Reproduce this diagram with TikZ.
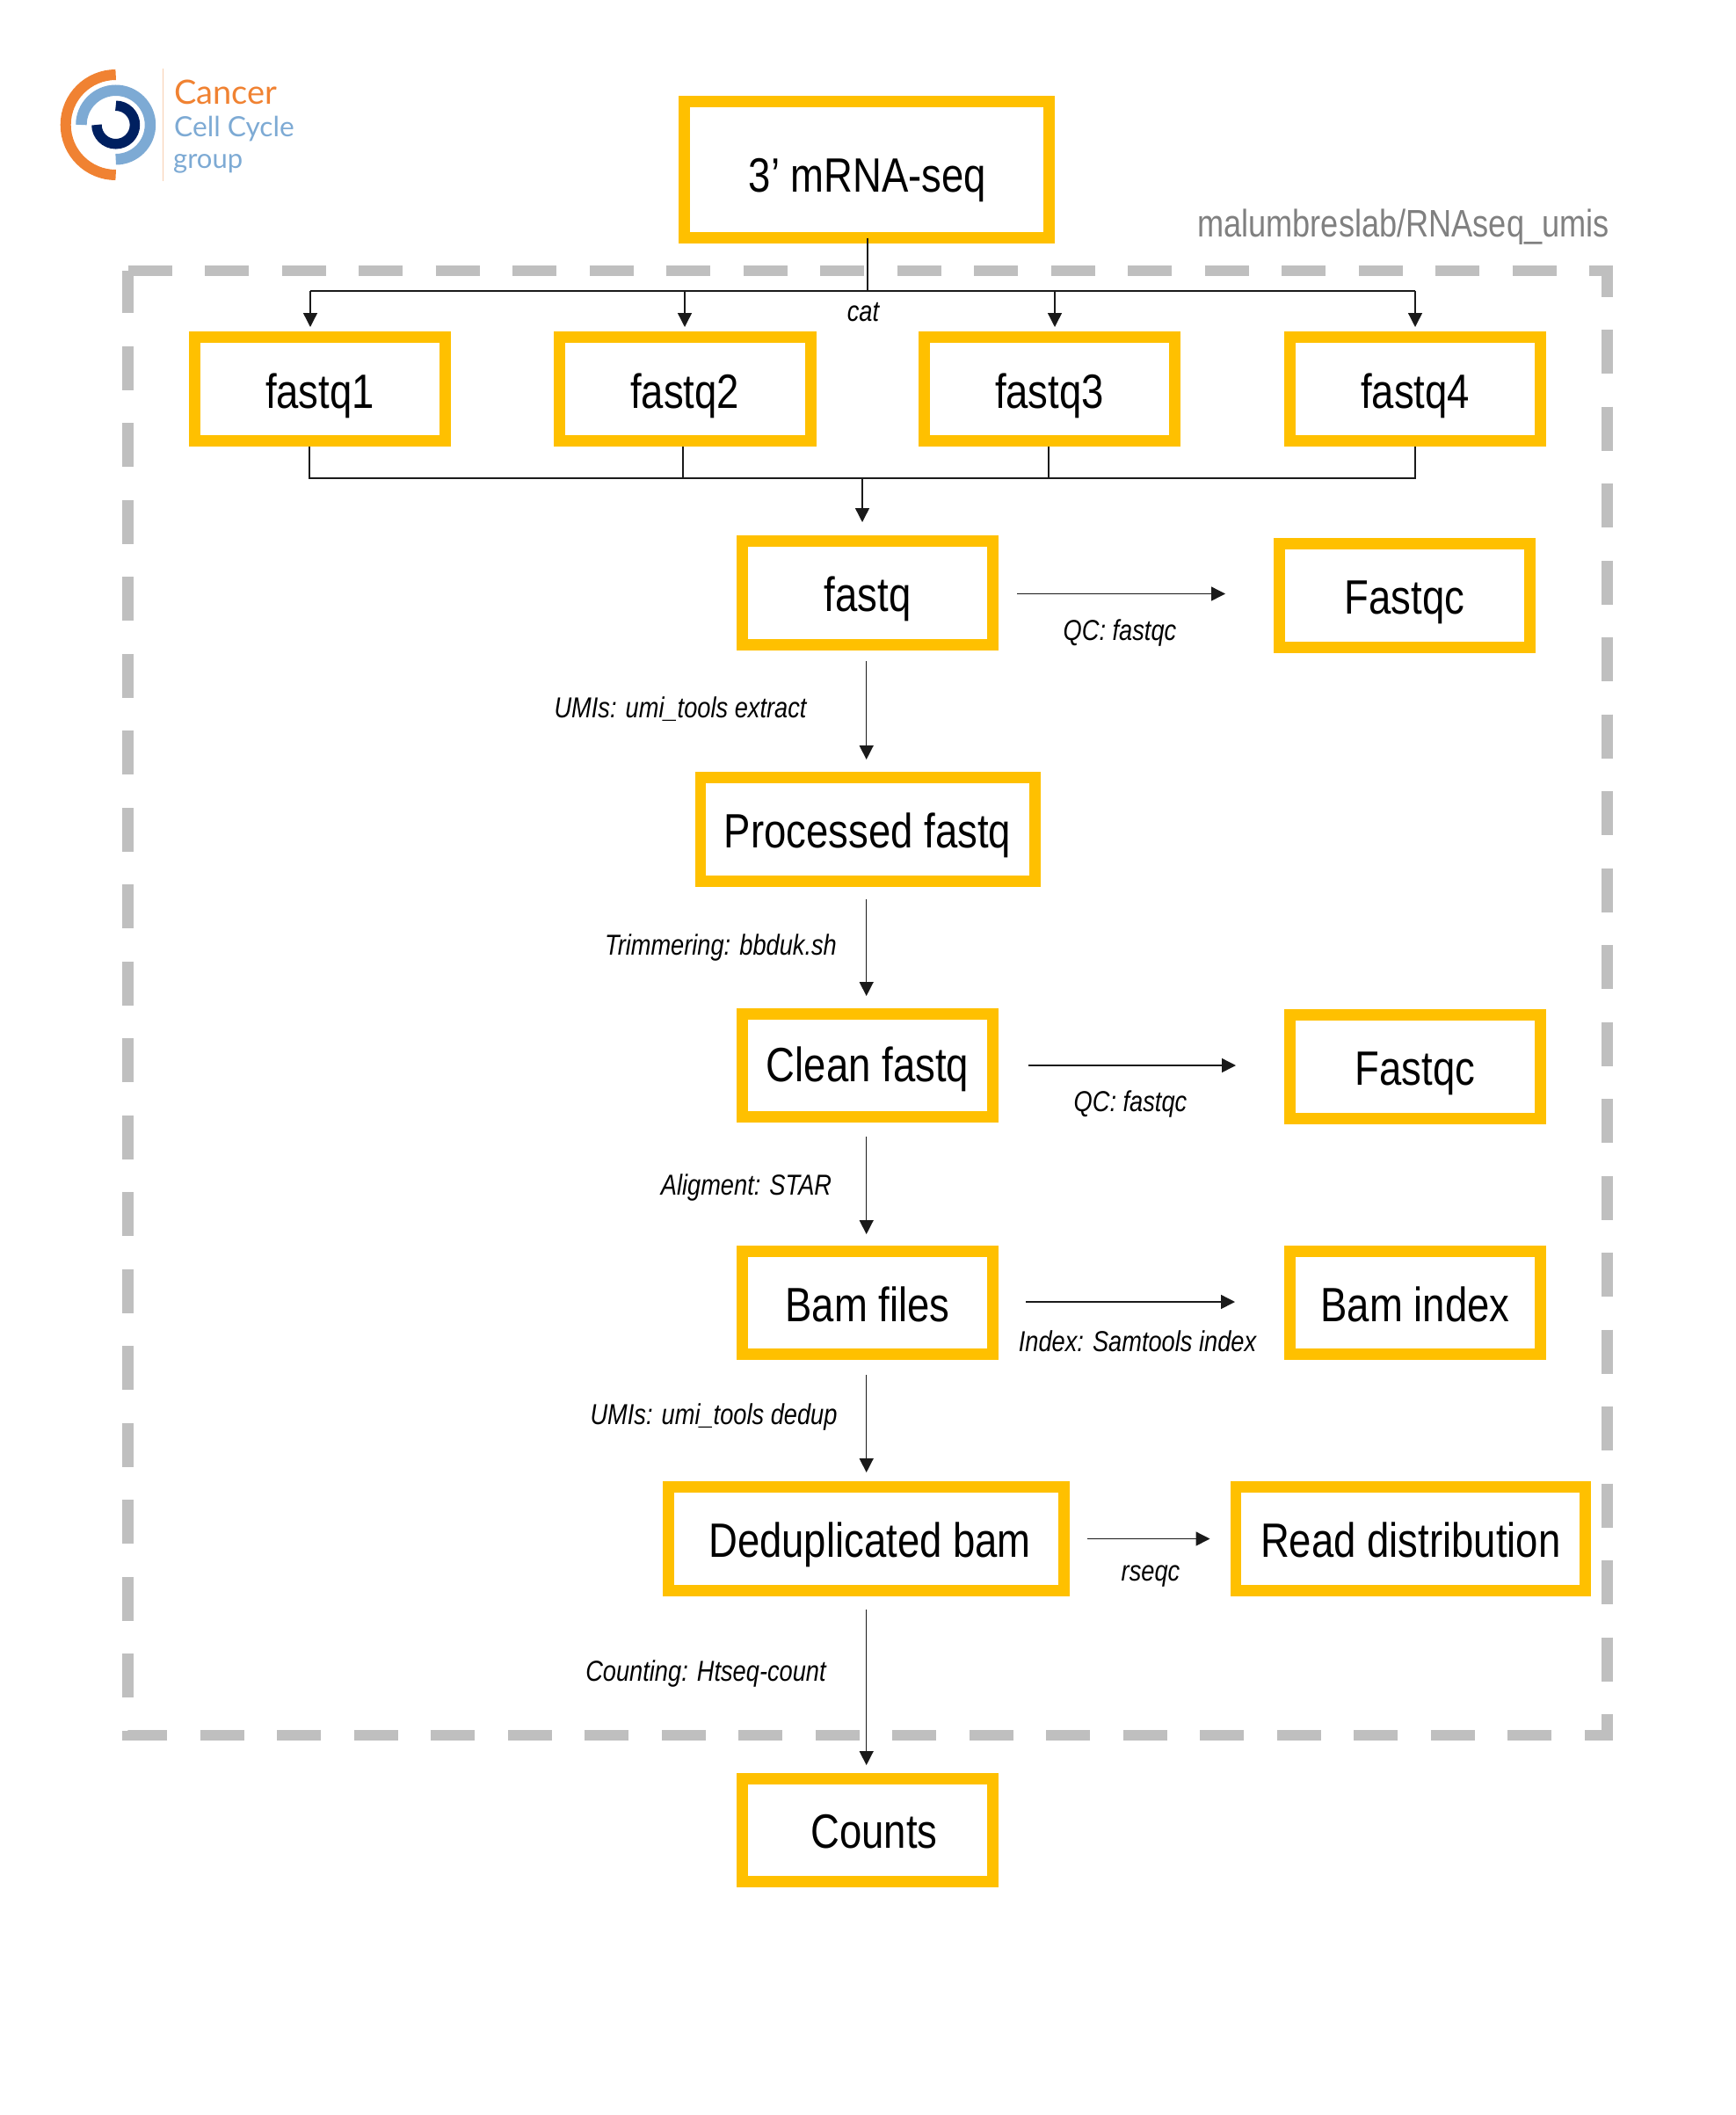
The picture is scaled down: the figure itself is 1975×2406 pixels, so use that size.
\documentclass[tikz,border=0pt]{standalone}
\usepackage{fontspec}
\setmainfont{Liberation Sans}[FakeStretch=0.83]
\newfontfamily\logofont{Lato}
\usetikzlibrary{arrows.meta,calc}
\definecolor{boxgold}{HTML}{FFC000}
\definecolor{dashgrey}{HTML}{BFBFBF}
\definecolor{repogrey}{HTML}{808080}
\definecolor{logoorange}{HTML}{F08232}
\definecolor{logoblue}{HTML}{7DAAD4}
\definecolor{logonavy}{HTML}{002060}
\definecolor{logoline}{HTML}{F8CFAF}
\definecolor{linkdark}{HTML}{1A1A1A}
\tikzset{
  flowbox/.style={draw=boxgold,line width=12.6pt,inner sep=0pt,text=black,
    font=\fontsize{54.8}{60}\selectfont,text height=42pt,text depth=0pt,align=center},
  frame/.style={draw=dashgrey,line width=12.3pt,dash pattern=on 50pt off 37.5pt,line cap=butt,miter limit=10},
  link/.style={draw=linkdark,line width=1.4pt},
  arr/.style={link,-{Triangle[length=16pt,width=16pt]}},
  steplabel/.style={font=\fontsize{32.8}{38}\selectfont\itshape,inner sep=0pt,text=black},
  repolabel/.style={font=\fontsize{43.6}{48}\selectfont,inner sep=0pt,text=repogrey},
  logotext/.style={font=\logofont\fontsize{31.7}{36}\selectfont,inner sep=0pt,anchor=base west}
}
\newcommand{\flowboxat}[6]{\node[flowbox,minimum width=#3pt-#2pt-12.6pt,minimum height=#5pt-#4pt-12.6pt] (#1) at ({(#2+#3)/2},{(#4+#5)/2}) {#6};}
\begin{document}
\begin{tikzpicture}[x=1pt,y=-1pt]
\useasboundingbox (0,0) rectangle (1975,2406);
% frame
\draw[frame] (145.5,308) -- (1828.5,308) -- (1828.5,1974) -- (145.5,1974) -- cycle;
% logo
\begin{scope}[shift={(131.7,142)},x=1pt,y=1pt]
  \draw[logoorange,line width=12pt] (0pt,57pt) arc[start angle=90,end angle=270,radius=57pt];
  \draw[logoblue,line width=12.5pt] (-39.25pt,0pt) arc[start angle=180,end angle=-90,radius=39.25pt];
  \draw[logonavy,line width=11.5pt] (0pt,21.75pt) arc[start angle=90,end angle=-180,radius=21.75pt];
\end{scope}
\coordinate (logoT) at (185.7,78);
\coordinate (logoB) at (185.7,206);
\draw[logoline,line width=1pt] (logoT) -- (logoB);
\node[logotext,text=logoorange,font=\logofont\fontsize{38}{40}\selectfont] (lc1) at (198,118) {Cancer};
\node[logotext,text=logoblue] (lc2) at (198,155) {Cell Cycle};
\node[logotext,text=logoblue,font=\logofont\fontsize{31}{36}\selectfont] (lc3) at (197,191) {group};
% repo label
\node[repolabel,anchor=base east] (repo) at (1831,269) {malumbreslab/RNAseq\_umis};
% boxes
\flowboxat{rna}{772}{1200}{109}{276.5}{\hspace*{2pt}\raisebox{-5pt}{3’ mRNA-seq}}
\flowboxat{f1}{215}{513}{377}{508}{\raisebox{-1pt}{fastq1}}
\flowboxat{f2}{630}{928.5}{377}{508}{\raisebox{-1pt}{fastq2}}
\flowboxat{f3}{1045}{1343}{377}{508}{\raisebox{-1pt}{fastq3}}
\flowboxat{f4}{1461}{1759}{377}{508}{\raisebox{-1pt}{fastq4}}
\flowboxat{fq}{838}{1136}{609}{740}{fastq}
\flowboxat{qc1}{1449}{1747}{612}{743}{Fastqc}
\flowboxat{proc}{790.5}{1183.5}{878}{1008.5}{Processed fastq}
\flowboxat{clean}{838}{1136}{1147}{1277}{\raisebox{3pt}{Clean fastq}}
\flowboxat{qc2}{1461}{1759}{1148}{1279}{Fastqc}
\flowboxat{bam}{838}{1136}{1417}{1547}{Bam files}
\flowboxat{idx}{1461}{1759}{1417}{1547}{Bam index}
\flowboxat{dedup}{754}{1217}{1685}{1816}{\hspace*{8pt}Deduplicated bam}
\flowboxat{dist}{1399.5}{1810}{1685}{1816}{Read distribution}
\flowboxat{counts}{838}{1136}{2017}{2147}{\hspace*{15pt}\raisebox{1pt}{Counts}}
% split bus
\coordinate (busC) at (987,331);
\coordinate (busA) at (353,331);
\coordinate (busB) at (779,331);
\coordinate (busD) at (1200,331);
\coordinate (busE) at (1610,331);
\draw[link,shorten <=-6pt] (rna.south -| busC) -- (busC);
\draw[link] (busA) -- (busE);
\draw[arr,shorten >=5pt] (busA) -- (busA |- f1.north);
\draw[arr,shorten >=5pt] (busB) -- (busB |- f2.north);
\draw[arr,shorten >=5pt] (busD) -- (busD |- f3.north);
\draw[arr,shorten >=5pt] (busE) -- (busE |- f4.north);
% merge bus
\coordinate (mA) at (352,544);
\coordinate (mB) at (777,544);
\coordinate (mC) at (1193,544);
\coordinate (mD) at (1610,544);
\coordinate (mO) at (981,544);
\draw[link] (mA |- f1.south) -- (mA) -- (mD) -- (mD |- f4.south);
\draw[link] (mB |- f2.south) -- (mB);
\draw[link] (mC |- f3.south) -- (mC);
\draw[arr,shorten >=15pt] (mO) -- (mO |- fq.north);
% main chain
\coordinate (spine) at (985.7,0);
\draw[arr,shorten <=12pt,shorten >=14pt] (spine |- fq.south) -- (spine |- proc.north);
\draw[arr,shorten <=14pt,shorten >=14pt] (spine |- proc.south) -- (spine |- clean.north);
\draw[arr,shorten <=16pt,shorten >=13pt] (spine |- clean.south) -- (spine |- bam.north);
\draw[arr,shorten <=17pt,shorten >=10pt] (spine |- bam.south) -- (spine |- dedup.north);
\draw[arr,shorten <=15pt,shorten >=9pt] (spine |- dedup.south) -- (spine |- counts.north);
% side arrows
\draw[arr,shorten <=21pt,shorten >=55pt] ([yshift=-1pt]fq.east) -- ([yshift=-1pt]fq.east -| qc1.west);
\draw[arr,shorten <=34pt,shorten >=55pt] (clean.east) -- (clean.east -| qc2.west);
\draw[arr,shorten <=31pt,shorten >=56pt] ([yshift=1pt]bam.east) -- ([yshift=1pt]bam.east -| idx.west);
\draw[arr,shorten <=20pt,shorten >=23pt] (dedup.east) -- (dedup.east -| dist.west);
% labels
\node[steplabel] (lcat) at (982,355) {cat};
\node[steplabel] (l1) at (1274,720) {QC: fastqc};
\node[steplabel] (l2) at (774,807) {UMIs: umi\_tools extract};
\node[steplabel] (l3) at (820,1078) {Trimmering: bbduk.sh};
\node[steplabel] (l4) at (1286,1256) {QC: fastqc};
\node[steplabel] (l5) at (849,1351) {Aligment: STAR};
\node[steplabel] (l6) at (1294,1526) {Index: Samtools index};
\node[steplabel] (l7) at (812,1612) {UMIs: umi\_tools dedup};
\node[steplabel] (l8) at (1309,1793) {rseqc};
\node[steplabel] (l9) at (803,1904) {Counting: Htseq-count};
\end{tikzpicture}
\end{document}
